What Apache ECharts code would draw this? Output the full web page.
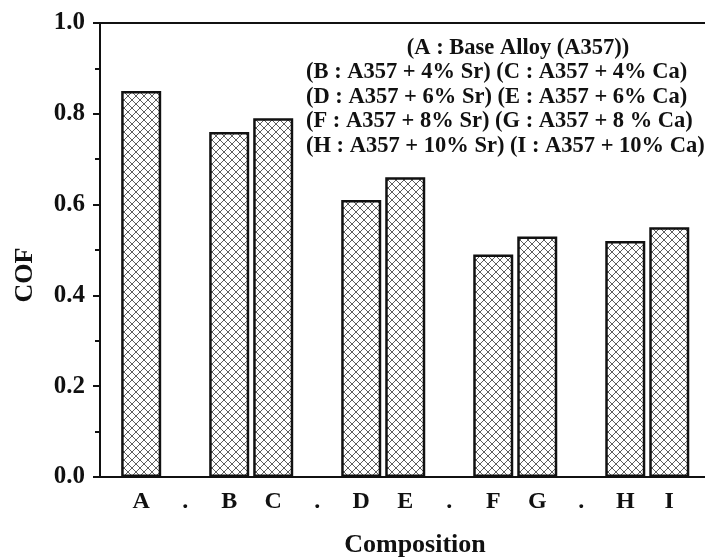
<!DOCTYPE html>
<html>
<head>
<meta charset="utf-8">
<script src="https://cdn.jsdelivr.net/npm/echarts@6/dist/echarts.min.js"></script>
<style>html,body{margin:0;padding:0;background:#fff;}#c{width:705px;height:557px;}</style>
</head>
<body>
<div id="c"></div>
<script>
var categories = ['A', '.', 'B', 'C', '.', 'D', 'E', '.', 'F', 'G', '.', 'H', 'I'];
var cofValues = [0.85, null, 0.76, 0.79, null, 0.61, 0.66, null, 0.49, 0.53, null, 0.52, 0.55];
var yTicks = [0.0, 0.2, 0.4, 0.6, 0.8, 1.0];
var noteTitle = '(A : Base Alloy (A357))';
var noteLines = [
  '(B : A357 + 4% Sr) (C : A357 + 4% Ca)',
  '(D : A357 + 6% Sr) (E : A357 + 6% Ca)',
  '(F : A357 + 8% Sr) (G : A357 + 8 % Ca)',
  '(H : A357 + 10% Sr) (I : A357 + 10% Ca)'
];

var FONT = '"Liberation Serif", "Times New Roman", serif';

// crosshatch pattern
var pc = document.createElement('canvas');
pc.width = 8; pc.height = 8;
var g = pc.getContext('2d');
g.fillStyle = '#fff';
g.fillRect(0, 0, 8, 8);
g.strokeStyle = '#5e5e5e';
g.lineWidth = 1;
g.beginPath();
g.moveTo(0, 0); g.lineTo(8, 8);
g.moveTo(8, 0); g.lineTo(0, 8);
g.stroke();

var barData = [];
categories.forEach(function (c, i) {
  if (cofValues[i] != null) barData.push([i, cofValues[i]]);
});

var noteStyle = {fontFamily: FONT, fontWeight: 'bold', fontSize: 22.5, lineHeight: 24.5, color: '#111'};

var chart = echarts.init(document.getElementById('c'), null, {renderer: 'canvas'});
chart.setOption({
  animation: false,
  backgroundColor: '#fff',
  title: [{
    text: noteTitle,
    left: 518,
    top: 35.5,
    textAlign: 'center',
    padding: 0,
    textStyle: noteStyle
  }, {
    text: noteLines.join('\n'),
    left: 306,
    top: 60,
    textAlign: 'left',
    padding: 0,
    textStyle: noteStyle
  }],
  grid: {left: 100, width: 630, top: 23, bottom: 80, outerBoundsMode: 'none', containLabel: false},
  xAxis: [{
    type: 'value',
    min: -0.936,
    max: 13.38,
    splitLine: {show: false},
    axisLine: {show: true, onZero: false, lineStyle: {color: '#111', width: 2}},
    axisTick: {show: false},
    axisLabel: {
      customValues: categories.map(function (c, i) { return i; }),
      formatter: function (v) { return categories[Math.round(v)]; },
      margin: 13,
      fontFamily: FONT, fontWeight: 'bold', fontSize: 24, color: '#111'
    },
    name: 'Composition',
    nameLocation: 'middle',
    nameGap: 55,
    nameTextStyle: {fontFamily: FONT, fontWeight: 'bold', fontSize: 26, color: '#111'}
  }, {
    type: 'value',
    position: 'top',
    min: -0.936,
    max: 13.38,
    splitLine: {show: false},
    axisLine: {show: true, onZero: false, lineStyle: {color: '#111', width: 2}},
    axisTick: {show: false},
    axisLabel: {show: false}
  }],
  yAxis: {
    type: 'value',
    min: 0,
    max: 1,
    interval: 0.2,
    splitLine: {show: false},
    axisLine: {show: true, onZero: false, lineStyle: {color: '#111', width: 2}},
    axisTick: {show: true, length: 7, lineStyle: {color: '#111', width: 2}},
    minorTick: {show: true, splitNumber: 2, length: 5, lineStyle: {color: '#111', width: 2}},
    axisLabel: {
      formatter: function (v) { return v.toFixed(1); },
      margin: 15,
      fontFamily: FONT, fontWeight: 'bold', fontSize: 25, color: '#111'
    },
    name: 'COF',
    nameLocation: 'middle',
    nameGap: 62,
    nameRotate: 90,
    nameTextStyle: {fontFamily: FONT, fontWeight: 'bold', fontSize: 26, color: '#111', padding: [0, 50, 0, 0]}
  },
  series: [{
    type: 'bar',
    xAxisIndex: 0,
    data: barData,
    barWidth: 40,
    itemStyle: {
      color: {image: pc, repeat: 'repeat'},
      borderColor: '#111',
      borderWidth: 2.5
    }
  }]
});
</script>
</body>
</html>
